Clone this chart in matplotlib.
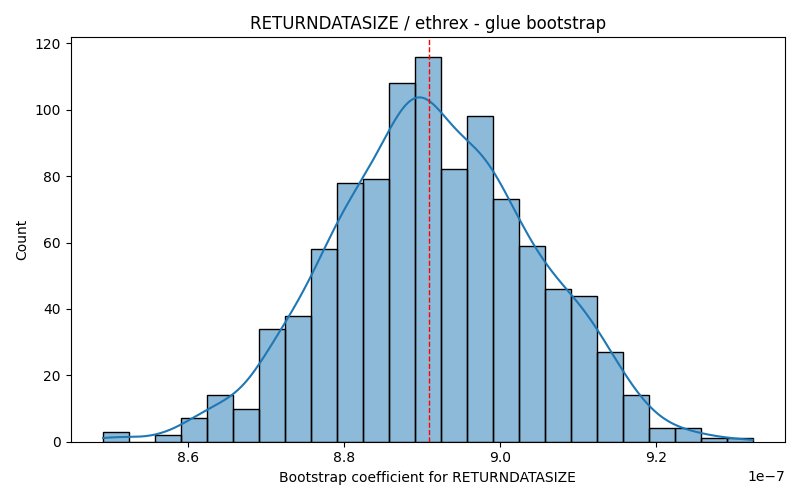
import numpy as np
import matplotlib.pyplot as plt

# histogram of bootstrap coefficients (units of 1e-7)
bin_lo = 8.491
bin_hi = 9.324
counts = [3, 0, 2, 7, 14, 10, 34, 38, 58, 78, 79, 108, 116,
          82, 98, 73, 59, 46, 44, 27, 14, 4, 4, 1, 1]
point_estimate = 8.909

edges = np.linspace(bin_lo, bin_hi, len(counts) + 1) * 1e-7
centers = 0.5 * (edges[:-1] + edges[1:])
widths = np.diff(edges)
counts = np.array(counts, dtype=float)

fig, ax = plt.subplots(figsize=(8, 5), dpi=100)

ax.bar(edges[:-1], counts, width=widths, align='edge',
       color='#1f77b4', alpha=0.5, edgecolor='none')
ax.bar(edges[:-1], counts, width=widths, align='edge',
       fill=False, edgecolor='black', linewidth=1)

# gaussian kde from the binned values (scott bandwidth)
n = counts.sum()
w = counts / n
mu = np.sum(w * centers)
sd = np.sqrt(np.sum(w * (centers - mu) ** 2))
bw = sd * n ** (-1 / 5)
xs = np.linspace(edges[0], edges[-1], 400)
dens = np.sum(w[None, :] * np.exp(-0.5 * ((xs[:, None] - centers[None, :]) / bw) ** 2), axis=1)
dens /= bw * np.sqrt(2 * np.pi)
ax.plot(xs, dens * n * widths[0], color='#1f77b4', linewidth=1.5)

ax.axvline(point_estimate * 1e-7, color='red', linestyle='--', linewidth=1)

ax.set_title('RETURNDATASIZE / ethrex - glue bootstrap')
ax.set_xlabel('Bootstrap coefficient for RETURNDATASIZE')
ax.set_ylabel('Count')

fig.tight_layout()
fig.savefig('out.png')
